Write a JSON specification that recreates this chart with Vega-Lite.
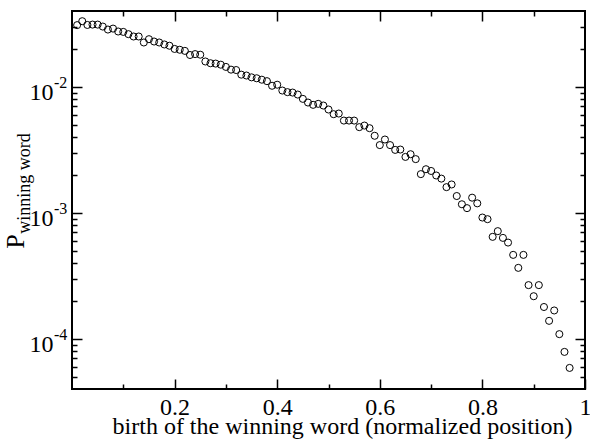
{
  "$schema": "https://vega.github.io/schema/vega-lite/v6.json",
  "width": 513,
  "height": 378,
  "autosize": {"type": "none"},
  "padding": {"left": 72, "top": 11, "right": 5, "bottom": 51},
  "background": "white",
  "config": {
    "font": "Liberation Serif",
    "view": {"stroke": "black", "strokeWidth": 2},
    "axis": {
      "domain": false,
      "grid": false,
      "offset": 0,
      "tickColor": "black",
      "tickWidth": 1.5,
      "labelColor": "black",
      "titleColor": "black",
      "labelFont": "Liberation Serif",
      "titleFont": "Liberation Serif",
      "labelFontSize": 24,
      "titleFontSize": 24,
      "titleFontWeight": "normal",
      "labelFlush": false,
      "labelOverlap": false
    }
  },
  "layer": [
    {
      "data": {
        "values": [
          {"pos": 0.01, "p": 0.0309}, {"pos": 0.02, "p": 0.0332}, {"pos": 0.03, "p": 0.0310},
          {"pos": 0.04, "p": 0.0312}, {"pos": 0.05, "p": 0.0312}, {"pos": 0.06, "p": 0.0301},
          {"pos": 0.07, "p": 0.0285}, {"pos": 0.08, "p": 0.0290}, {"pos": 0.09, "p": 0.0275},
          {"pos": 0.10, "p": 0.0273}, {"pos": 0.11, "p": 0.0262}, {"pos": 0.12, "p": 0.0251},
          {"pos": 0.13, "p": 0.0251}, {"pos": 0.14, "p": 0.0225}, {"pos": 0.15, "p": 0.0239},
          {"pos": 0.16, "p": 0.0229}, {"pos": 0.17, "p": 0.0225}, {"pos": 0.18, "p": 0.0217},
          {"pos": 0.19, "p": 0.0212}, {"pos": 0.20, "p": 0.0200}, {"pos": 0.21, "p": 0.0197},
          {"pos": 0.22, "p": 0.0193}, {"pos": 0.23, "p": 0.0179}, {"pos": 0.24, "p": 0.0182},
          {"pos": 0.25, "p": 0.0180}, {"pos": 0.26, "p": 0.0159}, {"pos": 0.27, "p": 0.0154},
          {"pos": 0.28, "p": 0.0153}, {"pos": 0.29, "p": 0.0150}, {"pos": 0.30, "p": 0.0144},
          {"pos": 0.31, "p": 0.0137}, {"pos": 0.32, "p": 0.0136}, {"pos": 0.33, "p": 0.0125},
          {"pos": 0.34, "p": 0.0123}, {"pos": 0.35, "p": 0.0119}, {"pos": 0.36, "p": 0.0117},
          {"pos": 0.37, "p": 0.0114}, {"pos": 0.38, "p": 0.0111}, {"pos": 0.39, "p": 0.0102},
          {"pos": 0.40, "p": 0.0104}, {"pos": 0.41, "p": 0.00935}, {"pos": 0.42, "p": 0.00908},
          {"pos": 0.43, "p": 0.00901}, {"pos": 0.44, "p": 0.00869}, {"pos": 0.45, "p": 0.00803},
          {"pos": 0.46, "p": 0.00751}, {"pos": 0.47, "p": 0.00720}, {"pos": 0.48, "p": 0.00733},
          {"pos": 0.49, "p": 0.00711}, {"pos": 0.50, "p": 0.00661}, {"pos": 0.51, "p": 0.00607},
          {"pos": 0.52, "p": 0.00614}, {"pos": 0.53, "p": 0.00540}, {"pos": 0.54, "p": 0.00540},
          {"pos": 0.55, "p": 0.00540}, {"pos": 0.56, "p": 0.00479}, {"pos": 0.57, "p": 0.00493},
          {"pos": 0.58, "p": 0.00470}, {"pos": 0.59, "p": 0.00409}, {"pos": 0.60, "p": 0.00345},
          {"pos": 0.61, "p": 0.00382}, {"pos": 0.62, "p": 0.00345}, {"pos": 0.63, "p": 0.00316},
          {"pos": 0.64, "p": 0.00318}, {"pos": 0.65, "p": 0.00278}, {"pos": 0.66, "p": 0.00292},
          {"pos": 0.67, "p": 0.00267}, {"pos": 0.68, "p": 0.00203}, {"pos": 0.69, "p": 0.00222},
          {"pos": 0.70, "p": 0.00215}, {"pos": 0.71, "p": 0.00198}, {"pos": 0.72, "p": 0.00187},
          {"pos": 0.73, "p": 0.00160}, {"pos": 0.74, "p": 0.00168}, {"pos": 0.75, "p": 0.00136},
          {"pos": 0.76, "p": 0.00117}, {"pos": 0.77, "p": 0.00109}, {"pos": 0.78, "p": 0.00132},
          {"pos": 0.79, "p": 0.00119}, {"pos": 0.80, "p": 0.000918}, {"pos": 0.81, "p": 0.000891},
          {"pos": 0.82, "p": 0.000645}, {"pos": 0.83, "p": 0.000716}, {"pos": 0.84, "p": 0.000633},
          {"pos": 0.85, "p": 0.000581}, {"pos": 0.86, "p": 0.000464}, {"pos": 0.87, "p": 0.000366},
          {"pos": 0.88, "p": 0.000464}, {"pos": 0.89, "p": 0.000267}, {"pos": 0.90, "p": 0.000218},
          {"pos": 0.91, "p": 0.000267}, {"pos": 0.92, "p": 0.000179}, {"pos": 0.93, "p": 0.000139},
          {"pos": 0.94, "p": 0.000168}, {"pos": 0.95, "p": 0.000109}, {"pos": 0.96, "p": 0.0000788},
          {"pos": 0.97, "p": 0.0000588}
        ]
      },
      "mark": {"type": "point", "shape": "circle", "filled": false, "stroke": "black", "strokeWidth": 1, "size": 50, "opacity": 1},
      "encoding": {
        "x": {
          "field": "pos",
          "type": "quantitative",
          "scale": {"domain": [0, 1], "nice": false, "zero": false},
          "axis": {
            "orient": "bottom",
            "values": [0.1, 0.2, 0.3, 0.4, 0.5, 0.6, 0.7, 0.8, 0.9, 1],
            "labelExpr": "datum.value == 1 ? '1' : (abs(datum.value * 5 - round(datum.value * 5)) < 0.001 ? format(datum.value, '.1f') : '')",
            "tickSize": {"condition": {"test": "abs(datum.value * 5 - round(datum.value * 5)) < 0.001", "value": -10}, "value": -5},
            "labelPadding": 16,
            "title": "birth of the winning word (normalized position)",
            "titleX": 270,
            "titleY": 44,
            "titleAlign": "center",
            "titleBaseline": "alphabetic"
          }
        },
        "y": {
          "field": "p",
          "type": "quantitative",
          "scale": {"type": "log", "domain": [0.00004, 0.04], "nice": false},
          "axis": {
            "orient": "left",
            "values": [0.00005, 0.00006, 0.00007, 0.00008, 0.00009, 0.0001, 0.0002, 0.0003, 0.0004, 0.0005, 0.0006, 0.0007, 0.0008, 0.0009, 0.001, 0.002, 0.003, 0.004, 0.005, 0.006, 0.007, 0.008, 0.009, 0.01, 0.02, 0.03],
            "labelExpr": "abs(log(datum.value) / LN10 - round(log(datum.value) / LN10)) < 0.01 ? '10' : ''",
            "tickSize": {"condition": {"test": "abs(log(datum.value) / LN10 - round(log(datum.value) / LN10)) < 0.01", "value": -10}, "value": -5},
            "labelPadding": 29,
            "labelBaseline": "middle",
            "labelOffset": 6,
            "title": "P",
            "titleFontSize": 26,
            "titleAngle": 270,
            "titleX": -57,
            "titleY": 230,
            "titleAlign": "center",
            "titleBaseline": "middle"
          }
        }
      }
    },
    {
      "data": {
        "values": [
          {"p": 0.01, "e": "-2"},
          {"p": 0.001, "e": "-3"},
          {"p": 0.0001, "e": "-4"}
        ]
      },
      "mark": {"type": "text", "align": "left", "baseline": "alphabetic", "fontSize": 16, "font": "Liberation Serif", "color": "black", "dx": -18, "dy": 1},
      "encoding": {
        "x": {
          "datum": 0,
          "type": "quantitative",
          "axis": {
            "orient": "top",
            "values": [0.1, 0.2, 0.3, 0.4, 0.5, 0.6, 0.7, 0.8, 0.9],
            "labels": false,
            "tickSize": {"condition": {"test": "abs(datum.value * 5 - round(datum.value * 5)) < 0.001", "value": -10}, "value": -5},
            "title": null
          }
        },
        "y": {
          "field": "p",
          "type": "quantitative",
          "axis": {
            "orient": "right",
            "values": [0.00005, 0.00006, 0.00007, 0.00008, 0.00009, 0.0001, 0.0002, 0.0003, 0.0004, 0.0005, 0.0006, 0.0007, 0.0008, 0.0009, 0.001, 0.002, 0.003, 0.004, 0.005, 0.006, 0.007, 0.008, 0.009, 0.01, 0.02, 0.03],
            "labels": false,
            "tickSize": {"condition": {"test": "abs(log(datum.value) / LN10 - round(log(datum.value) / LN10)) < 0.01", "value": -10}, "value": -5},
            "title": "winning word",
            "titleFontSize": 18,
            "titleAngle": 270,
            "titleX": -561,
            "titleY": 172,
            "titleAlign": "center",
            "titleBaseline": "middle"
          }
        },
        "text": {"field": "e"}
      }
    }
  ],
  "resolve": {"axis": {"x": "independent", "y": "independent"}}
}
